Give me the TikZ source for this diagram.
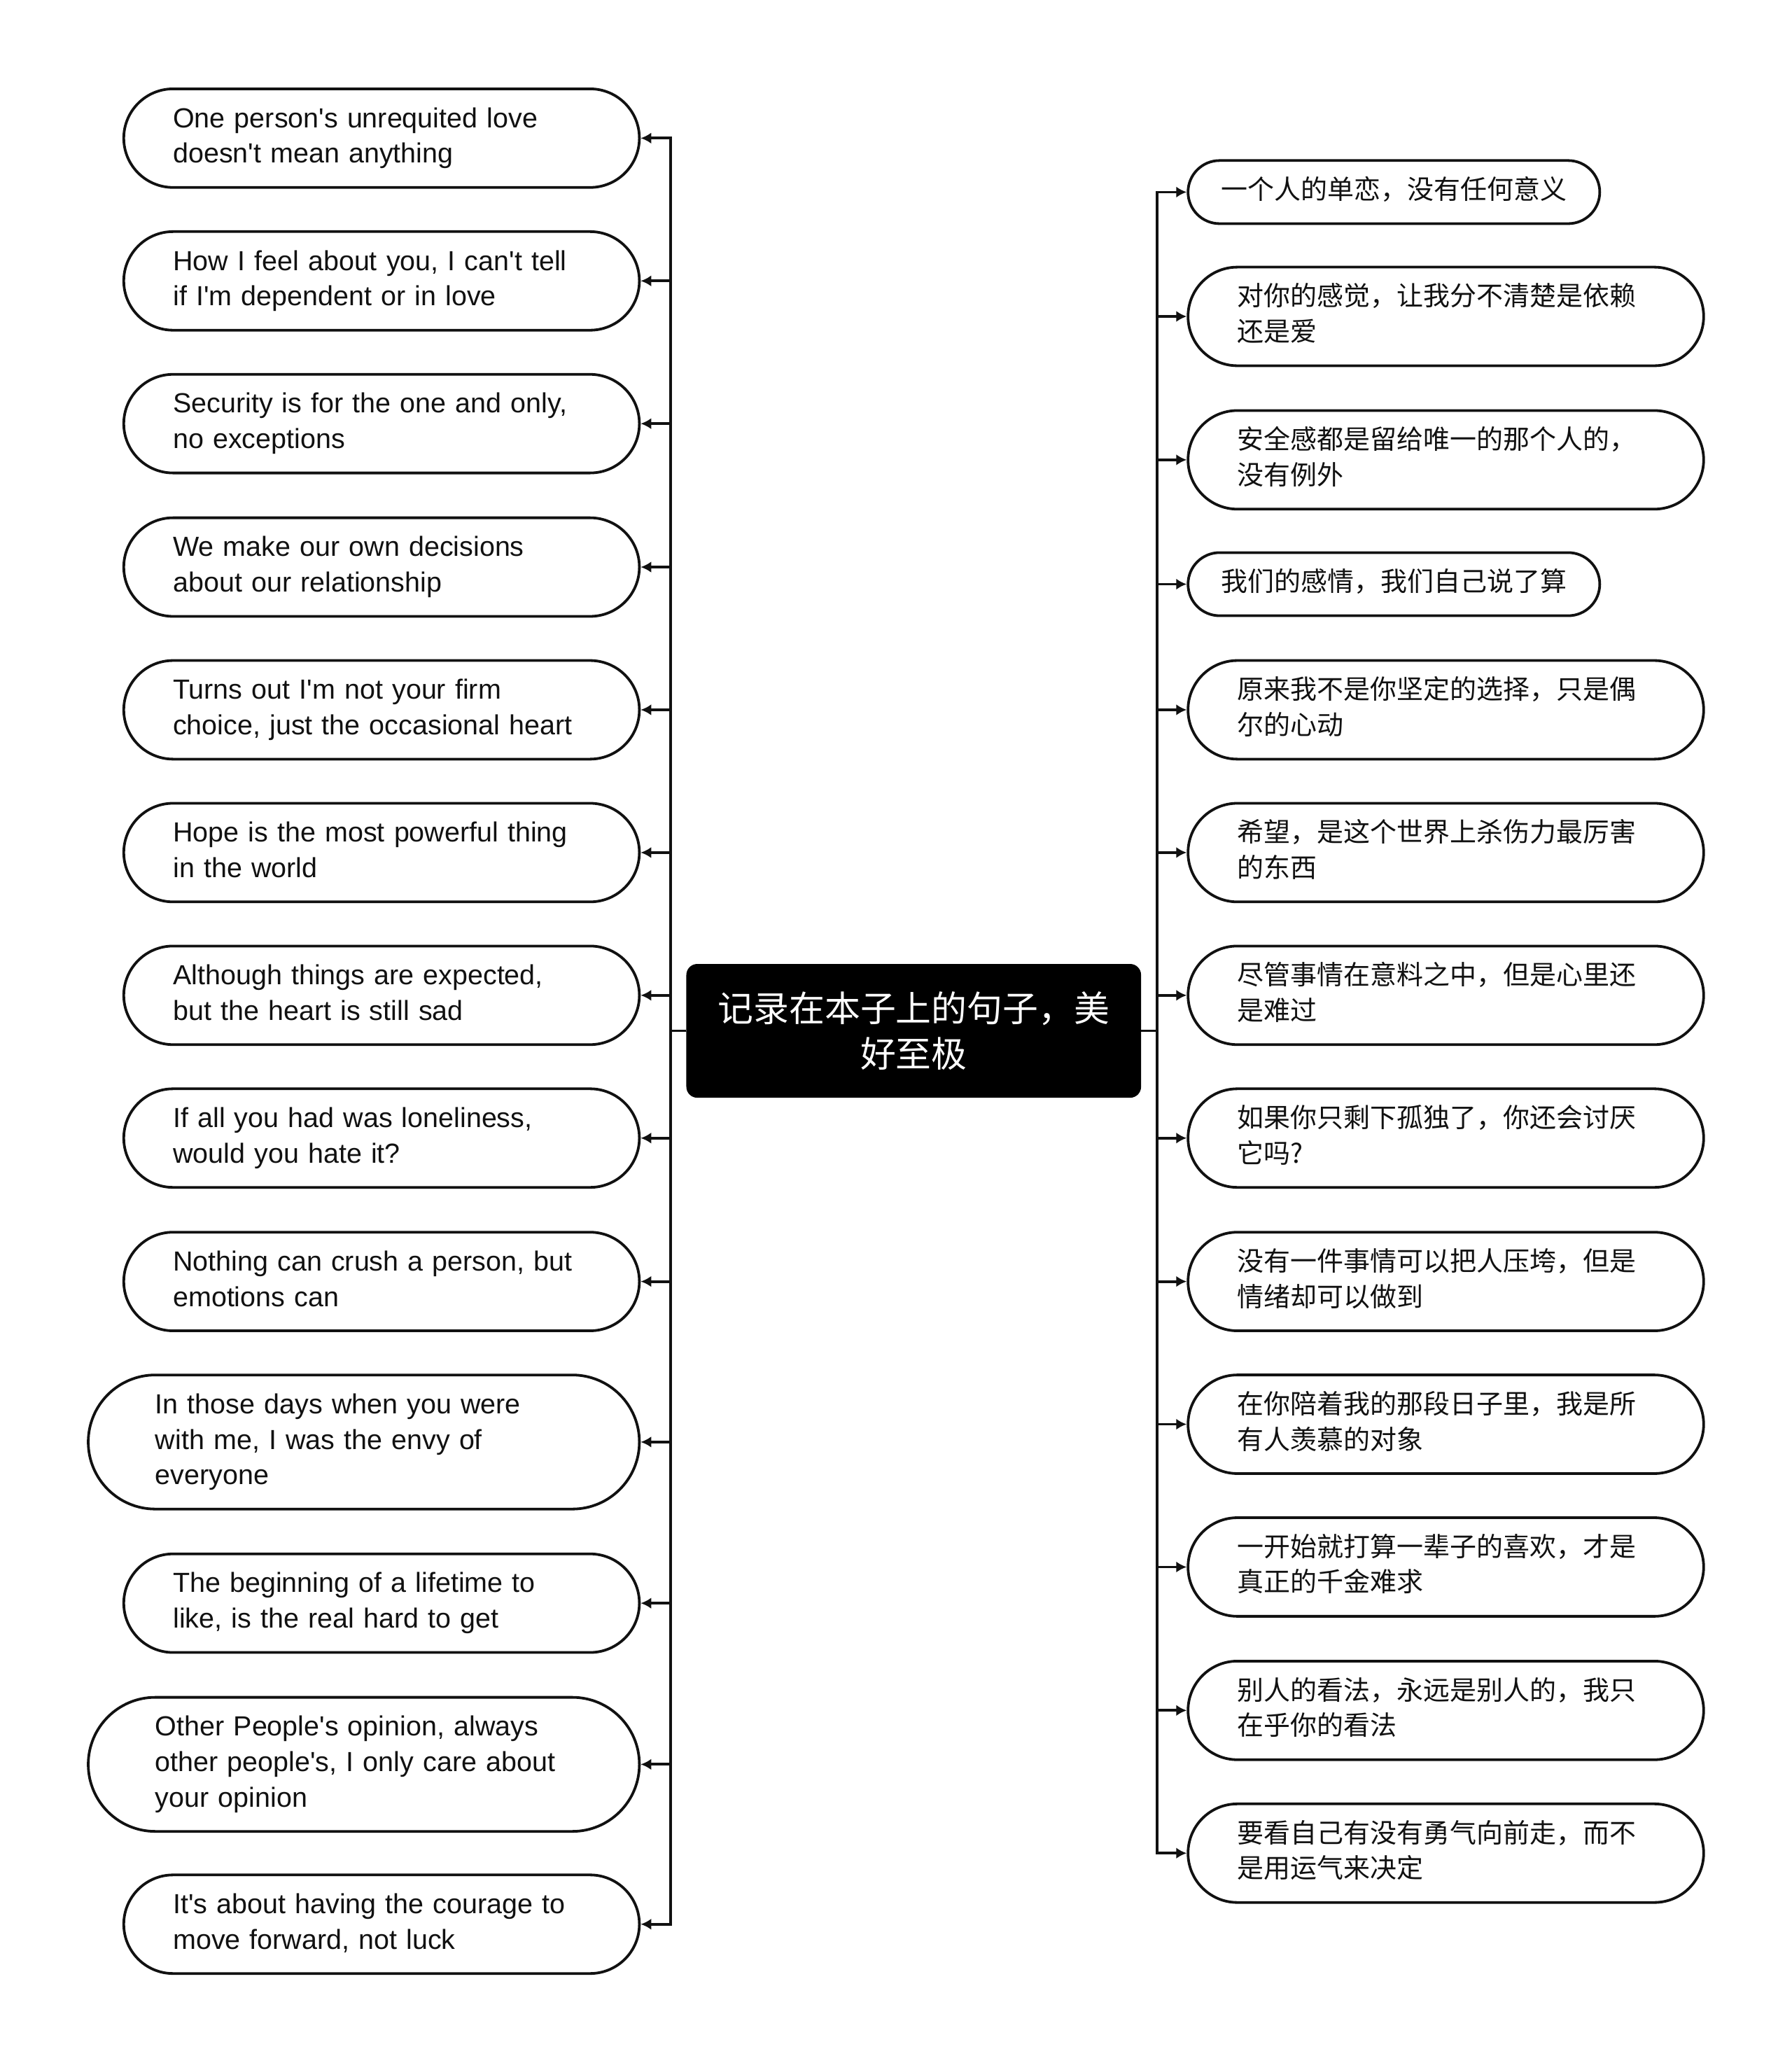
\documentclass[tikz,border=0pt]{standalone}
\usepackage{fontspec}
\setmainfont{Liberation Sans}
\newfontfamily\cjk{Noto Sans CJK SC}
\usepackage{xcolor}
\usepackage{tikz}
\usetikzlibrary{arrows.meta,positioning,shapes.misc}
\definecolor{cInk}{HTML}{111111}
\newcommand\ap{\textquotesingle}
\tikzset{
  pill/.style={rounded rectangle,draw=cInk,fill=white,line width=1.15pt,inner xsep=0pt,inner ysep=0.21cm,
    text=cInk,align=left,execute at begin node=\strut,execute at end node=\strut},
  lnote/.style={pill,anchor=east,text width=6.34cm,minimum width=7.84cm,font=\fontsize{11.95pt}{15.35pt}\selectfont},
  lthree/.style={lnote,minimum width=8.38cm},
  rnote/.style={pill,anchor=west,minimum width=6.26cm,font=\cjk\fontsize{11.5pt}{15.35pt}\selectfont},
  rwide/.style={rnote,text width=6.34cm,minimum width=7.84cm},
  rootbox/.style={fill=black,draw=black,rounded corners=0.16cm,minimum width=6.9cm,minimum height=2.02cm,
    text width=6.2cm,align=center,text=white,font=\cjk\fontsize{15.4pt}{19.9pt}\selectfont},
  arr/.style={-{Latex[length=0.16cm,width=0.17cm]},line width=1.15pt,color=cInk},
}

\begin{document}
\begin{tikzpicture}[x=0.02cm,y=-0.02cm]
  \useasboundingbox (0,0) rectangle (1362,1568);
  % centre
  \node[rootbox] (root) at (694.5,783.5) {记录在本子上的句子，美\\好至极};
  % left column
  \node[lnote]  (l1)  at (487,105)    {One person\ap s unrequited love\\doesn\ap t mean anything};
  \node[lnote]  (l2)  at (487,213.5)  {How I feel about you, I can\ap t tell\\if I\ap m dependent or in love};
  \node[lnote]  (l3)  at (487,322)    {Security is for the one and only,\\no exceptions};
  \node[lnote]  (l4)  at (487,431)    {We make our own decisions\\about our relationship};
  \node[lnote]  (l5)  at (487,539.5)  {Turns out I\ap m not your firm\\choice, just the occasional heart};
  \node[lnote]  (l6)  at (487,648)    {Hope is the most powerful thing\\in the world};
  \node[lnote]  (l7)  at (487,756.5)  {Although things are expected,\\but the heart is still sad};
  \node[lnote]  (l8)  at (487,865)    {If all you had was loneliness,\\would you hate it?};
  \node[lnote]  (l9)  at (487,974)    {Nothing can crush a person, but\\emotions can};
  \node[lthree] (l10) at (487,1096)   {In those days when you were\\with me, I was the envy of\\everyone};
  \node[lnote]  (l11) at (487,1218.5) {The beginning of a lifetime to\\like, is the real hard to get};
  \node[lthree] (l12) at (487,1341)   {Other People\ap s opinion, always\\other people\ap s, I only care about\\your opinion};
  \node[lnote]  (l13) at (487,1462.5) {It\ap s about having the courage to\\move forward, not luck};
  % right column
  \node[rnote] (r1)  at (902,146)    {一个人的单恋，没有任何意义};
  \node[rwide] (r2)  at (902,240.5)  {对你的感觉，让我分不清楚是依赖\\还是爱};
  \node[rwide] (r3)  at (902,349.5)  {安全感都是留给唯一的那个人的，\\没有例外};
  \node[rnote] (r4)  at (902,444)    {我们的感情，我们自己说了算};
  \node[rwide] (r5)  at (902,539.5)  {原来我不是你坚定的选择，只是偶\\尔的心动};
  \node[rwide] (r6)  at (902,648)    {希望，是这个世界上杀伤力最厉害\\的东西};
  \node[rwide] (r7)  at (902,756.5)  {尽管事情在意料之中，但是心里还\\是难过};
  \node[rwide] (r8)  at (902,865)    {如果你只剩下孤独了，你还会讨厌\\它吗?};
  \node[rwide] (r9)  at (902,974)    {没有一件事情可以把人压垮，但是\\情绪却可以做到};
  \node[rwide] (r10) at (902,1082.5) {在你陪着我的那段日子里，我是所\\有人羡慕的对象};
  \node[rwide] (r11) at (902,1191)   {一开始就打算一辈子的喜欢，才是\\真正的千金难求};
  \node[rwide] (r12) at (902,1300)   {别人的看法，永远是别人的，我只\\在乎你的看法};
  \node[rwide] (r13) at (902,1408.5) {要看自己有没有勇气向前走，而不\\是用运气来决定};
  % connectors
  \foreach \i in {1,...,13} {
    \draw[arr] (root.west) -- ++(-12,0) |- (l\i.east);
    \draw[arr] (root.east) -- ++(12,0) |- (r\i.west);
  }
\end{tikzpicture}
\end{document}
